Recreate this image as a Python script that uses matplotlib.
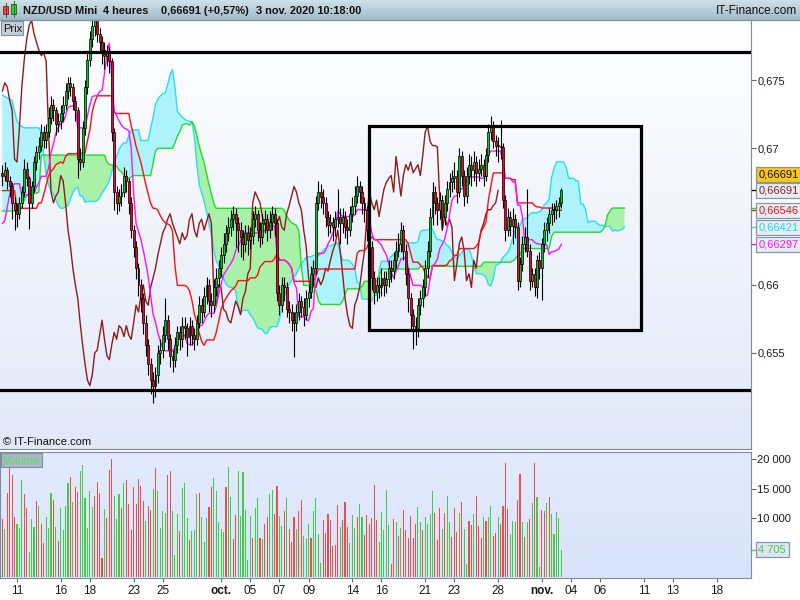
import matplotlib
matplotlib.use('Agg')
import matplotlib.pyplot as plt
import matplotlib.transforms as mtransforms
from matplotlib.colors import to_rgb
from matplotlib.patches import Rectangle
import numpy as np
import pandas as pd

plt.rcParams['font.family'] = ['Liberation Sans', 'DejaVu Sans']

# NZD/USD Mini, 4h candles from 10 sept. 2020 (prices in 1/10000)
first_open = 6682
close_pips = [
    6680, 6684, 6676, 6672, 6660, 6655, 6652, 6660, 6668, 6685,
    6678, 6660, 6672, 6690, 6697, 6702, 6712, 6706, 6712, 6722,
    6732, 6728, 6718, 6720, 6726, 6732, 6742, 6748, 6745, 6735,
    6728, 6692, 6690, 6715, 6745, 6765, 6780, 6790, 6794, 6784,
    6778, 6772, 6768, 6770, 6764, 6712, 6668, 6660, 6665, 6668,
    6680, 6676, 6660, 6640, 6628, 6612, 6600, 6590, 6572, 6556,
    6542, 6530, 6526, 6534, 6550, 6552, 6563, 6574, 6560, 6548,
    6545, 6556, 6565, 6560, 6570, 6568, 6562, 6570, 6563, 6560,
    6572, 6585, 6580, 6592, 6600, 6588, 6585, 6598, 6605, 6612,
    6622, 6630, 6638, 6642, 6648, 6652, 6645, 6640, 6635, 6630,
    6638, 6633, 6636, 6648, 6652, 6640, 6635, 6645, 6648, 6640,
    6646, 6652, 6645, 6594, 6585, 6600, 6598, 6582, 6580, 6574,
    6572, 6580, 6588, 6584, 6578, 6590, 6595, 6608, 6612, 6660,
    6668, 6664, 6660, 6650, 6644, 6646, 6642, 6648, 6650, 6645,
    6650, 6642, 6640, 6652, 6658, 6665, 6672, 6668, 6660, 6655,
    6640, 6628, 6605, 6595, 6600, 6598, 6605, 6600, 6604, 6612,
    6610, 6618, 6625, 6630, 6640, 6625, 6608, 6590, 6578, 6570,
    6568, 6585, 6590, 6598, 6612, 6625, 6650, 6668, 6660, 6655,
    6662, 6650, 6660, 6670, 6675, 6678, 6680, 6668, 6694, 6680,
    6665, 6680, 6688, 6684, 6690, 6682, 6685, 6688, 6680, 6695,
    6712, 6716, 6705, 6702, 6702, 6701, 6662, 6640, 6650, 6643,
    6648, 6642, 6603, 6615, 6630, 6635, 6625, 6603, 6608, 6598,
    6618, 6612, 6630, 6640, 6645, 6652, 6655, 6655, 6658, 6660,
    6669.1]
high_pips = [
    6688, 6690, 6686, 6680, 6675, 6664, 6660, 6664, 6672, 6692,
    6690, 6680, 6676, 6694, 6702, 6708, 6718, 6716, 6718, 6730,
    6738, 6736, 6730, 6726, 6732, 6738, 6748, 6752, 6752, 6748,
    6738, 6730, 6700, 6720, 6750, 6770, 6786, 6798, 6799, 6796,
    6788, 6782, 6778, 6776, 6774, 6766, 6715, 6672, 6670, 6674,
    6686, 6684, 6678, 6664, 6644, 6632, 6616, 6604, 6594, 6578,
    6560, 6546, 6536, 6540, 6556, 6560, 6570, 6590, 6578, 6564,
    6552, 6562, 6570, 6570, 6576, 6576, 6572, 6576, 6574, 6568,
    6578, 6592, 6590, 6598, 6606, 6604, 6594, 6604, 6612, 6618,
    6628, 6638, 6644, 6650, 6655, 6658, 6656, 6650, 6646, 6640,
    6644, 6644, 6642, 6654, 6658, 6655, 6646, 6652, 6655, 6652,
    6654, 6658, 6656, 6648, 6600, 6606, 6606, 6602, 6588, 6586,
    6580, 6586, 6594, 6592, 6590, 6596, 6600, 6614, 6618, 6665,
    6676, 6674, 6670, 6664, 6654, 6652, 6650, 6654, 6670, 6656,
    6656, 6654, 6648, 6658, 6664, 6672, 6680, 6676, 6672, 6664,
    6658, 6644, 6632, 6610, 6606, 6606, 6612, 6610, 6610, 6618,
    6618, 6624, 6632, 6638, 6646, 6644, 6630, 6612, 6594, 6582,
    6576, 6590, 6596, 6604, 6618, 6632, 6656, 6675, 6672, 6664,
    6668, 6666, 6666, 6676, 6682, 6684, 6690, 6684, 6700, 6698,
    6684, 6686, 6696, 6694, 6698, 6694, 6692, 6696, 6692, 6700,
    6718, 6724, 6720, 6710, 6708, 6720.74, 6704, 6666, 6656, 6654,
    6656, 6652, 6646, 6620, 6636, 6642, 6670, 6630, 6612, 6612,
    6622, 6624, 6634, 6646, 6650, 6656, 6660, 6660, 6662, 6664,
    6670.9]
low_pips = [
    6672, 6676, 6670, 6664, 6648, 6640, 6642, 6648, 6656, 6664,
    6672, 6641, 6656, 6668, 6684, 6692, 6698, 6700, 6700, 6708,
    6718, 6720, 6710, 6712, 6714, 6720, 6728, 6736, 6738, 6728,
    6720, 6678, 6684, 6686, 6710, 6740, 6760, 6774, 6782, 6778,
    6770, 6762, 6758, 6760, 6755, 6705, 6655, 6652, 6654, 6658,
    6664, 6668, 6652, 6634, 6620, 6604, 6592, 6580, 6564, 6548,
    6534, 6520, 6513, 6518, 6528, 6542, 6546, 6558, 6552, 6540,
    6536, 6540, 6550, 6552, 6554, 6560, 6548, 6556, 6556, 6552,
    6556, 6568, 6572, 6576, 6586, 6580, 6576, 6580, 6592, 6598,
    6606, 6616, 6624, 6632, 6636, 6640, 6628, 6624, 6620, 6618,
    6624, 6622, 6626, 6630, 6642, 6632, 6628, 6630, 6638, 6632,
    6634, 6640, 6636, 6588, 6578, 6580, 6588, 6576, 6572, 6566,
    6547, 6566, 6574, 6576, 6570, 6574, 6584, 6590, 6600, 6608,
    6655, 6656, 6652, 6642, 6636, 6638, 6632, 6636, 6642, 6630,
    6638, 6634, 6630, 6636, 6646, 6652, 6660, 6660, 6652, 6646,
    6632, 6618, 6596, 6586, 6588, 6590, 6592, 6592, 6594, 6598,
    6602, 6604, 6612, 6620, 6624, 6618, 6600, 6580, 6566, 6553,
    6556, 6562, 6578, 6584, 6592, 6606, 6620, 6644, 6652, 6644,
    6648, 6640, 6644, 6654, 6664, 6668, 6670, 6660, 6664, 6672,
    6658, 6660, 6674, 6672, 6676, 6672, 6676, 6680, 6672, 6676,
    6690, 6706, 6700, 6694, 6690, 6692, 6656, 6632, 6636, 6636,
    6630, 6634, 6596, 6598, 6610, 6624, 6620, 6596, 6598, 6592,
    6590, 6604, 6588.42, 6624, 6632, 6638, 6644, 6646, 6648, 6650,
    6656]

volume = [
    9890, 8190, 14350, 18590, 17350, 10230, 9040, 8360, 16500, 14130,
    11810, 4290, 9890, 8530, 12940, 12090, 9040, 5820, 10230, 8360,
    14350, 13110, 8530, 6160, 11750, 8020, 12090, 15990, 17010, 12770,
    15310, 14460, 18020, 19040, 13450, 8360, 14630, 11920, 13790, 16160,
    14290, 3280, 11580, 10060, 18190, 20060, 13790, 9890, 14130, 11750,
    15990, 16500, 12430, 8020, 15310, 12430, 16670, 15480, 12940, 9550,
    12090, 11410, 14970, 18530, 14630, 8360, 11240, 10900, 17350, 18020,
    11240, 3790, 10740, 7850, 15140, 15990, 10060, 6330, 7850, 8020,
    14130, 14290, 10230, 5990, 10060, 11920, 15310, 16840, 14630, 9380,
    8190, 7680, 15310, 18700, 13620, 6500, 10570, 18020, 10400, 17850,
    11410, 2940, 10400, 6670, 11750, 13450, 6670, 6500, 9040, 10230,
    14130, 14800, 10740, 15480, 10400, 8700, 11240, 13450, 8190, 5990,
    10230, 8190, 11240, 13110, 7010, 6500, 9040, 6670, 11240, 13450,
    7350, 2430, 9720, 7510, 10740, 9720, 5310, 5480, 12260, 8530,
    9720, 12770, 8530, 5820, 10570, 8360, 10230, 12430, 10230, 7180,
    10570, 9040, 10060, 15650, 9720, 5990, 11070, 8020, 14800, 8870,
    2260, 9890, 9380, 7010, 8360, 11410, 8020, 6670, 10400, 6670,
    9040, 11920, 9380, 8020, 10230, 9040, 10740, 14630, 10900, 6330,
    11750, 8190, 10900, 13790, 9380, 6840, 11750, 7680, 10900, 12770,
    8190, 2260, 9550, 8870, 10740, 13790, 8700, 6670, 10230, 9550,
    10230, 12090, 7010, 7510, 10230, 9040, 12090, 19380, 11580, 7350,
    9550, 9380, 13110, 17520, 9380, 6840, 9380, 9890, 12600, 19380,
    13620, 1750, 11410, 11240, 12600, 13620, 10740, 7350, 11070, 10060,
    4705]
volume_dir = ("rgrrrrgggrrgggrgrrgggrgrggggrgrrggggggrrrrgrrrgggrgrrrrrrrrg"
              "rrgrggggrrgggrgggrgggrgggrrgggggrggrrggggggrggrgrrggrrggrgrr"
              "rgrrgggrggggrrrrrrrgrrrgggrggrrrrrrgggggrrgr"
              "grrrrrrggrggggrrrgrggrrrgrggrrgrrrgrggrrgrrrrgggrrgrgrgrggrrgrggggg")

# Ichimoku values before the first bar (no price history in the window)
tenkan_early = [6645, 6647, 6657, 6666, 6672, 6674, 6674, 6674]
kijun_early = [6669, 6669, 6669, 6669, 6669, 6669, 6656, 6656, 6656, 6656,
               6656, 6656, 6656, 6656, 6656, 6660, 6660, 6666, 6673, 6680,
               6683, 6685, 6688, 6689, 6690]
span_a_early = [6739, 6738, 6737, 6736, 6735, 6727, 6720, 6717, 6716, 6715,
                6715, 6715, 6715, 6715, 6715, 6715, 6712, 6695, 6680, 6673,
                6669, 6666, 6662, 6658, 6656, 6656]
span_b_early = ([6654] * 8 + [6657, 6662, 6665, 6666, 6666, 6667, 6667, 6668]
                + [6695] * 27
                + [6690, 6688, 6688, 6687, 6687, 6684, 6683, 6680, 6676, 6678, 6679]
                + [6680] * 8 + [6689, 6698] + [6700] * 7
                + [6704, 6709, 6712, 6717, 6718, 6718, 6717])

# drawn levels
resistance = 0.67704
support = 0.65226
box_low, box_high = 0.65666, 0.67166
box_start, box_end = 151, 263

bars_per_day = 6
trading_days = pd.bdate_range('2020-09-10', '2020-11-20')
tick_dates = ['2020-09-11', '2020-09-16', '2020-09-18', '2020-09-23', '2020-09-25',
              '2020-10-01', '2020-10-05', '2020-10-07', '2020-10-09', '2020-10-14',
              '2020-10-16', '2020-10-21', '2020-10-23', '2020-10-28', '2020-11-02',
              '2020-11-04', '2020-11-06', '2020-11-11', '2020-11-13', '2020-11-18']
month_names = {10: 'oct.', 11: 'nov.'}

close = np.array(close_pips) / 10000
high = np.array(high_pips) / 10000
low = np.array(low_pips) / 10000
opens = np.r_[first_open / 10000, close[:-1]]
n = len(close)
idx = np.arange(n)

hi_s, lo_s = pd.Series(high), pd.Series(low)
tenkan = ((hi_s.rolling(9).max() + lo_s.rolling(9).min()) / 2).to_numpy()
tenkan[:8] = np.array(tenkan_early) / 10000
kijun = ((hi_s.rolling(26).max() + lo_s.rolling(26).min()) / 2).to_numpy()
kijun[:25] = np.array(kijun_early) / 10000
mid52 = ((hi_s.rolling(52).max() + lo_s.rolling(52).min()) / 2).to_numpy()
span_a = np.full(n + 26, np.nan)
span_a[26:] = (tenkan + kijun) / 2
span_a[:26] = np.array(span_a_early) / 10000
span_b = np.full(n + 26, np.nan)
span_b[26:] = mid52
span_b[:78] = np.array(span_b_early) / 10000
idx_span = np.arange(n + 26)

# ---------------------------------------------------------------- layout
W, H = 800, 600
fig = plt.figure(figsize=(W / 100, H / 100), dpi=100)


def frac(x0, y0, x1, y1):
    return [x0 / W, 1 - y1 / H, (x1 - x0) / W, (y1 - y0) / H]


def pixel_axes(z):
    a = fig.add_axes([0, 0, 1, 1], zorder=z)
    a.axis('off')
    a.patch.set_alpha(0)
    return a


def gradient(a, x0, x1, y0, y1, c_top, c_bottom):
    t = np.linspace(0, 1, 128)[:, None, None]
    img = np.array(to_rgb(c_top)) * (1 - t) + np.array(to_rgb(c_bottom)) * t
    a.imshow(img, extent=(x0, x1, y1, y0), aspect='auto', interpolation='bilinear', zorder=0)


bg = pixel_axes(-1)
gradient(bg, 0, 750.5, 20, 449, '#ffffff', '#e1e8f8')
gradient(bg, 0, 750.5, 452, 578, '#e2eafc', '#d9e3fa')
bg.set_xlim(0, W)
bg.set_ylim(H, 0)

ax = fig.add_axes(frac(0, 20, 750.5, 449), zorder=1)
axv = fig.add_axes(frac(0, 452, 750.5, 578), zorder=1)
for a in (ax, axv):
    a.set_facecolor('none')
    a.set_xlim(-0.99, 307.86)

green, red = '#00c81e', '#f2002e'
ax.fill_between(idx_span, span_a, span_b, where=span_a >= span_b, interpolate=True,
                color='#aef3fb', lw=0, zorder=1)
ax.fill_between(idx_span, span_a, span_b, where=span_a < span_b, interpolate=True,
                color='#a9f0a9', lw=0, zorder=1)
ax.plot(idx_span, span_a, color='#28def8', lw=1, zorder=2)
ax.plot(idx_span, span_b, color='#22dd22', lw=1, zorder=2)
ax.plot(idx[26:] - 26, close[26:], color='#8e1c1c', lw=1, zorder=3)
ax.plot(idx, kijun, color='#ff1010', lw=1, zorder=3)
ax.plot(idx, tenkan, color='#ff10ff', lw=1, zorder=3)

up = close >= opens
ax.vlines(idx, low, high, color='black', lw=0.8, zorder=4)
ax.bar(idx, np.maximum(np.abs(close - opens), 0.00003), bottom=np.minimum(opens, close),
       width=0.8, color=np.where(up, green, red), edgecolor='black', linewidth=0.5, zorder=5)

ax.axhline(resistance, color='black', lw=2.3, zorder=6)
ax.axhline(support, color='black', lw=2.3, zorder=6)
ax.add_patch(Rectangle((box_start, box_low), box_end - box_start, box_high - box_low,
                       fill=False, ec='black', lw=2.3, zorder=6))

ax.set_ylim(0.647955, 0.679406)
ax.set_xticks([])
ax.yaxis.tick_right()
price_ticks = [0.655, 0.66, 0.67, 0.675]
ax.set_yticks(price_ticks, [f'{v:.3f}'.rstrip('0').replace('.', ',') for v in price_ticks])
ax.tick_params(axis='y', length=3.5, width=0.8, color='#5a6a78', pad=1.5,
               labelsize=8, labelcolor='#1a1a1a')
for s in ('top', 'left'):
    ax.spines[s].set_visible(False)
for s in ('right', 'bottom'):
    ax.spines[s].set_color('#7d8d9a')

vol_colors = ['#48c848' if d == 'g' else '#e8504a' for d in volume_dir]
axv.bar(idx, volume, width=0.45, color=vol_colors, lw=0)
axv.set_ylim(-120, 21240)
axv.yaxis.tick_right()
vol_ticks = [10000, 15000, 20000]
axv.set_yticks(vol_ticks, [f'{v:,}'.replace(',', ' ') for v in vol_ticks])
axv.tick_params(axis='y', length=3.5, width=0.8, color='#5a6a78', pad=1.5,
                labelsize=8, labelcolor='#1a1a1a')
tick_pos = trading_days.get_indexer(pd.to_datetime(tick_dates)) * bars_per_day
tick_lab = [month_names.get(d.month) if d.day <= 2 and d.month in month_names else f'{d.day:02d}'
            for d in pd.to_datetime(tick_dates)]
axv.set_xticks(tick_pos, tick_lab)
axv.tick_params(axis='x', length=3, width=0.8, color='#5a6a78', pad=2,
                labelsize=8.5, labelcolor='#1a1a1a')
for t in axv.get_xticklabels():
    if t.get_text().endswith('.'):
        t.set_fontweight('bold')
for s in axv.spines.values():
    s.set_color('#7d8d9a')


def fmt(v):
    return f'{v:.5f}'.replace('.', ',')


def side_label(a, value, text, tcolor, face, dy=0):
    a.annotate(text, xy=(1, value), xycoords=('axes fraction', 'data'),
               xytext=(8, dy), textcoords='offset pixels', ha='left', va='center',
               fontsize=8, color=tcolor, annotation_clip=False, zorder=10,
               bbox=dict(boxstyle='square,pad=0.22', fc=face, ec='#8796a5', lw=0.9))


def side_tick(a, value, color):
    blend = mtransforms.blended_transform_factory(a.transAxes, a.transData)
    a.plot([1, 1.007], [value, value], transform=blend, clip_on=False, color=color, lw=1)


last = close[-1]
side_tick(ax, last, 'black')
side_tick(ax, kijun[-1], '#ff1010')
side_tick(ax, span_b[-1], '#22dd22')
side_tick(ax, span_a[-1], '#28def8')
side_tick(ax, tenkan[-1], '#ff10ff')
side_label(ax, last, fmt(last), '#111111', '#fbc814', dy=16)
side_label(ax, last, fmt(last), '#8e1c1c', '#e8edf4')
side_label(ax, kijun[-1], fmt(kijun[-1]), '#ff1010', '#e8edf4')
side_label(ax, span_a[-1], fmt(span_a[-1]), '#10e0f0', '#e8edf4')
side_label(ax, tenkan[-1], fmt(tenkan[-1]), '#ff10ff', '#e8edf4')
side_tick(axv, volume[-1], '#48c848')
side_label(axv, volume[-1], f'{volume[-1]:,}'.replace(',', ' '), '#44cc44', '#dfe6f2')

# ---------------------------------------------------------------- overlay
top = pixel_axes(10)
gradient(top, 0, 800, 0, 20, '#cfe1ea', '#a2bbc8')
top.plot([0, 800], [20, 20], color='#7f96a4', lw=1)
top.add_patch(Rectangle((3, 6), 5, 8, fc='#f04848', ec='#7a2020', lw=0.6))
top.plot([5.5, 5.5], [3, 17], color='#7a2020', lw=0.6)
top.add_patch(Rectangle((11, 4), 5, 10, fc='#30d030', ec='#206020', lw=0.6))
top.plot([13.5, 13.5], [1, 17], color='#206020', lw=0.6)
title_parts = [(23, 'NZD/USD Mini'), (103, '4 heures'), (161, '0,66691 (+0,57%)'),
               (256, '3 nov. 2020 10:18:00')]
for x, s in title_parts:
    top.text(x, 11, s, fontsize=7.9, fontweight='bold', va='center', ha='left', color='#111111')
top.text(797, 11, 'IT-Finance.com', fontsize=8.5, va='center', ha='right', color='#111111')

top.add_patch(Rectangle((0.5, 21), 22, 14, fc='#c4d0d9', ec='#7f8f9c', lw=0.8))
top.text(3, 28.5, 'Prix', fontsize=8, va='center', ha='left', color='#111111')
top.add_patch(Rectangle((0.5, 453), 41, 14, fc='#a9b9c3', ec='#7f8f9c', lw=0.8))
top.text(3, 460.5, 'Volume', fontsize=8, va='center', ha='left', color='#62d862')
top.text(3, 442, '\u00a9 IT-Finance.com', fontsize=8, va='center', ha='left', color='#111111')
top.set_xlim(0, W)
top.set_ylim(H, 0)

fig.savefig('out.png', dpi=100)
